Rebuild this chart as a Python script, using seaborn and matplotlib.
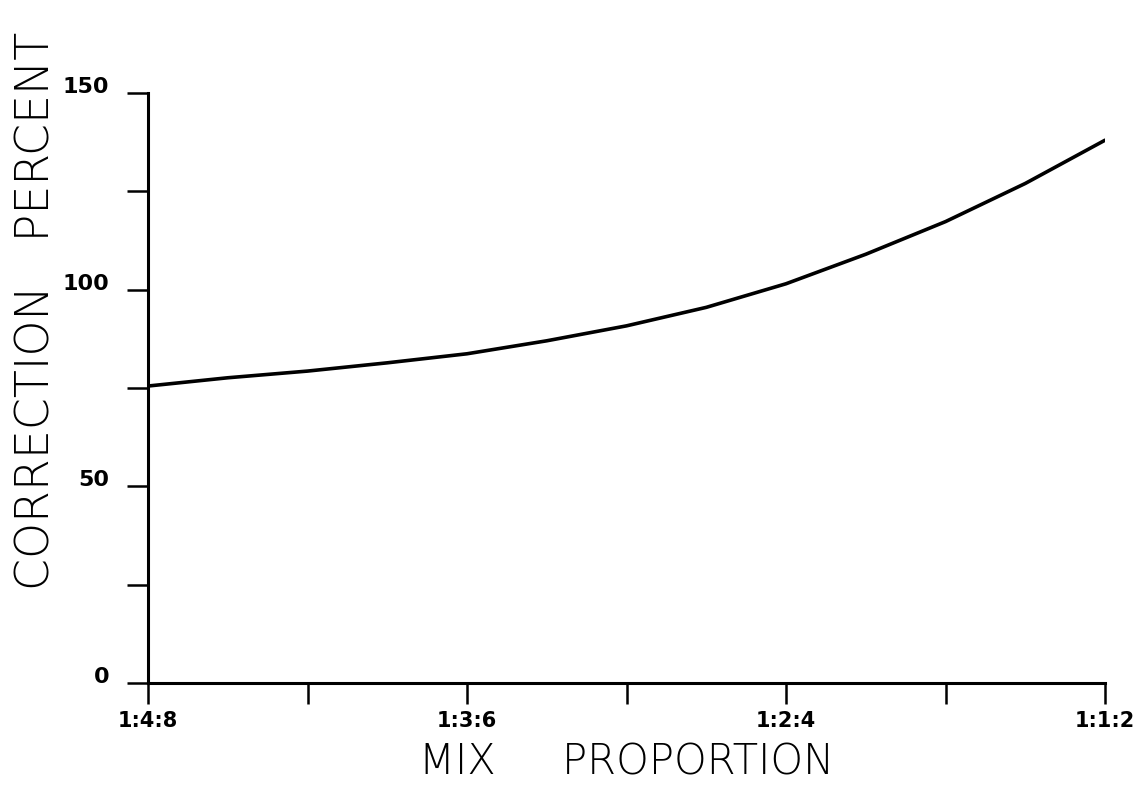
import numpy as np
import pandas as pd
import matplotlib
matplotlib.use("Agg")
import matplotlib.pyplot as plt
import matplotlib.transforms as mtransforms
import seaborn as sns

# Mix proportion axis: tick positions and their labels (unlabelled ticks between)
tick_positions = [0, 1, 2, 3, 4, 5, 6]
tick_labels = ["1:4:8", "", "1:3:6", "", "1:2:4", "", "1:1:2"]

# Correction curve sampled along the mix-proportion axis
mix_position = [0.0, 0.5, 1.0, 1.5, 2.0, 2.5, 3.0, 3.5, 4.0, 4.5, 5.0, 5.5, 6.0]
correction_pct = [75.5, 77.6, 79.3, 81.4, 83.7, 87.0, 90.8, 95.5, 101.5, 109.0, 117.3, 127.0, 138.0]

y_ticks = [0, 25, 50, 75, 100, 125, 150]
y_labels = ["0", "", "50", "", "100", "", "150"]

df = pd.DataFrame({"mix": mix_position, "correction": correction_pct})

sns.set_theme(style="white", rc={
    "text.color": "black",
    "axes.labelcolor": "black",
    "xtick.color": "black",
    "ytick.color": "black",
    "xtick.bottom": True,
    "ytick.left": True,
})
plt.rcParams["font.family"] = ["DejaVu Sans"]

fig = plt.figure(figsize=(11.42, 7.86), dpi=100)
ax = fig.add_axes([148 / 1142, 1 - 683 / 786, (1105 - 148) / 1142, (683 - 93) / 786])

sns.lineplot(data=df, x="mix", y="correction", ax=ax, color="black", linewidth=2.6)

ax.set_xlim(0, 6)
ax.set_ylim(0, 150)

for side in ("top", "right"):
    ax.spines[side].set_visible(False)
for side in ("left", "bottom"):
    ax.spines[side].set_color("black")
    ax.spines[side].set_linewidth(2.2)

ax.set_xticks(tick_positions)
ax.set_xticklabels(tick_labels, fontsize=15, fontweight="bold")
ax.set_yticks(y_ticks)
ax.set_yticklabels(y_labels, fontsize=16, fontweight="bold")

ax.tick_params(axis="both", which="major", direction="out", length=15,
               width=1.8, color="black", labelcolor="black")
ax.tick_params(axis="x", bottom=True, pad=5)
ax.tick_params(axis="y", left=True, pad=13)

# y tick labels sit slightly above their ticks
offset = mtransforms.ScaledTranslation(0, 8 / 100, fig.dpi_scale_trans)
for lab in ax.get_yticklabels():
    lab.set_transform(lab.get_transform() + offset)

ax.set_xlabel("MIX     PROPORTION", fontsize=30, fontweight="light", labelpad=8)
ax.set_ylabel("CORRECTION   PERCENT", fontsize=33, fontweight="light")
ax.yaxis.set_label_coords(-0.094, (683 - 311) / (683 - 93))
ax.grid(False)

fig.savefig("out.png", dpi=100, facecolor="white")
